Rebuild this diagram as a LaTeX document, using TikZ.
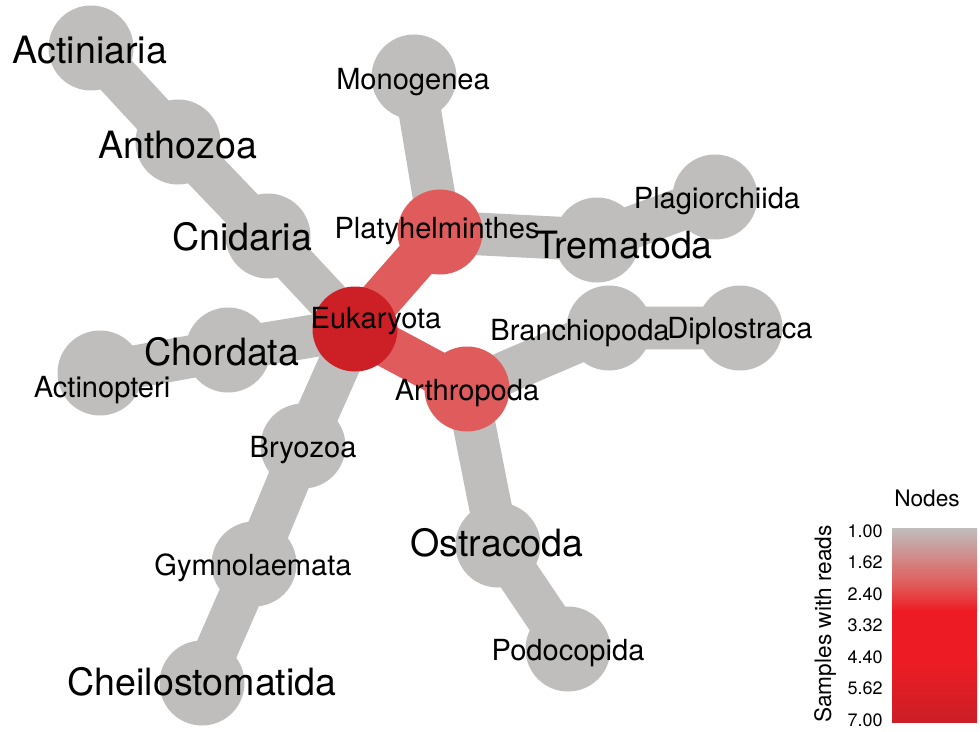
\documentclass[tikz,border=0pt]{standalone}
\usepackage{fontspec}
\setmainfont{TeX Gyre Heros}
\usetikzlibrary{backgrounds}
\definecolor{nodegray}{HTML}{BFBEBC}
\definecolor{rootred}{HTML}{CC1F26}
\definecolor{midred}{HTML}{E05C5C}
\definecolor{brightred}{HTML}{ED1C24}

\begin{document}
\begin{tikzpicture}[x=0.75pt, y=-0.75pt,
  taxon/.style={circle, fill=#1, minimum size=63.75pt, inner sep=0pt},
  taxon/.default=nodegray,
  link/.style={draw=#1, line width=32pt},
  link/.default=nodegray,
  small/.style={font=\fontsize{21.8}{24}\selectfont, anchor=base, yshift=-7.5pt, inner sep=0pt},
  big/.style={font=\fontsize{28.2}{30}\selectfont, anchor=base, yshift=-10pt, inner sep=0pt},
  tick/.style={font=\fontsize{13.5}{15}\selectfont, anchor=east, inner sep=0pt}
]
  \useasboundingbox (0,0) rectangle (980,731);
  % Taxa
  \node[taxon] (actiniaria) at (91,48) {};
  \node[taxon] (anthozoa) at (178,142) {};
  \node[taxon] (cnidaria) at (268,236) {};
  \node[taxon] (chordata) at (228,350) {};
  \node[taxon] (actinopteri) at (100,373) {};
  \node[taxon] (monogenea) at (414,77) {};
  \node[taxon] (trematoda) at (597,240) {};
  \node[taxon] (plagiorchiida) at (715,197) {};
  \node[taxon] (branchiopoda) at (609,328) {};
  \node[taxon] (diplostraca) at (740,328) {};
  \node[taxon] (bryozoa) at (303,446) {};
  \node[taxon] (gymnolaemata) at (254,564) {};
  \node[taxon] (ostracoda) at (498,545) {};
  \node[taxon] (podocopida) at (568,649) {};
  \node[taxon] (cheilostomatida) at (202,683) {};
  \node[taxon=midred] (platyhelminthes) at (440,232) {};
  \node[taxon=midred] (arthropoda) at (467,389) {};
  \node[taxon=rootred] (eukaryota) at (355,329) {};
  % Links
  \begin{scope}[on background layer]
    \draw[link] (eukaryota.center) -- (cnidaria.center) -- (anthozoa.center) -- (actiniaria.center);
    \draw[link] (eukaryota.center) -- (chordata.center) -- (actinopteri.center);
    \draw[link] (eukaryota.center) -- (bryozoa.center) -- (gymnolaemata.center) -- (cheilostomatida.center);
    \draw[link] (monogenea.center) -- (platyhelminthes.center) -- (trematoda.center) -- (plagiorchiida.center);
    \draw[link] (diplostraca.center) -- (branchiopoda.center) -- (arthropoda.center) -- (ostracoda.center) -- (podocopida.center);
    \draw[link=midred] (platyhelminthes.center) -- (eukaryota.center) -- (arthropoda.center);
  \end{scope}
  % Labels
  \node[big] (actiniaria-lbl) at (90,50) {Actiniaria};
  \node[big] (anthozoa-lbl) at (178,145) {Anthozoa};
  \node[big] (cnidaria-lbl) at (242,237) {Cnidaria};
  \node[big] (chordata-lbl) at (222,352) {Chordata};
  \node[small] (actinopteri-lbl) at (102,387) {Actinopteri};
  \node[small] (eukaryota-lbl) at (376,318) {Eukaryota};
  \node[small] (platyhelminthes-lbl) at (437,228) {Platyhelminthes};
  \node[small] (monogenea-lbl) at (413,80) {Monogenea};
  \node[big] (trematoda-lbl) at (624,245) {Trematoda};
  \node[small] (plagiorchiida-lbl) at (717,198) {Plagiorchiida};
  \node[small] (branchiopoda-lbl) at (580,330) {Branchiopoda};
  \node[small] (diplostraca-lbl) at (740,328) {Diplostraca};
  \node[small] (arthropoda-lbl) at (467,390) {Arthropoda};
  \node[small] (bryozoa-lbl) at (303,447) {Bryozoa};
  \node[small] (gymnolaemata-lbl) at (253,565) {Gymnolaemata};
  \node[big] (ostracoda-lbl) at (497,543) {Ostracoda};
  \node[small] (podocopida-lbl) at (568,650) {Podocopida};
  \node[big] (cheilostomatida-lbl) at (202,682) {Cheilostomatida};
  % Legend
  \node[font=\fontsize{17}{19}\selectfont] (legend-title) at (927,498) {Nodes};
  \shade[top color=nodegray, bottom color=midred!90!red] (892,528) rectangle (977,589);
  \shade[top color=midred!90!red, bottom color=brightred] (892,588) rectangle (977,611);
  \fill[brightred] (892,610) rectangle (977,661);
  \shade[top color=brightred, bottom color=rootred] (892,660) rectangle (977,722);
  \foreach \v [count=\i from 0] in {1.00,1.62,2.40,3.32,4.40,5.62,7.00}
    \node[tick] (tick\i) at (883,{531+31.5*\i}) {\v};
  \node[rotate=90, font=\fontsize{17}{19}\selectfont] (legend-axis) at (825,624) {Samples with reads};
\end{tikzpicture}
\end{document}
